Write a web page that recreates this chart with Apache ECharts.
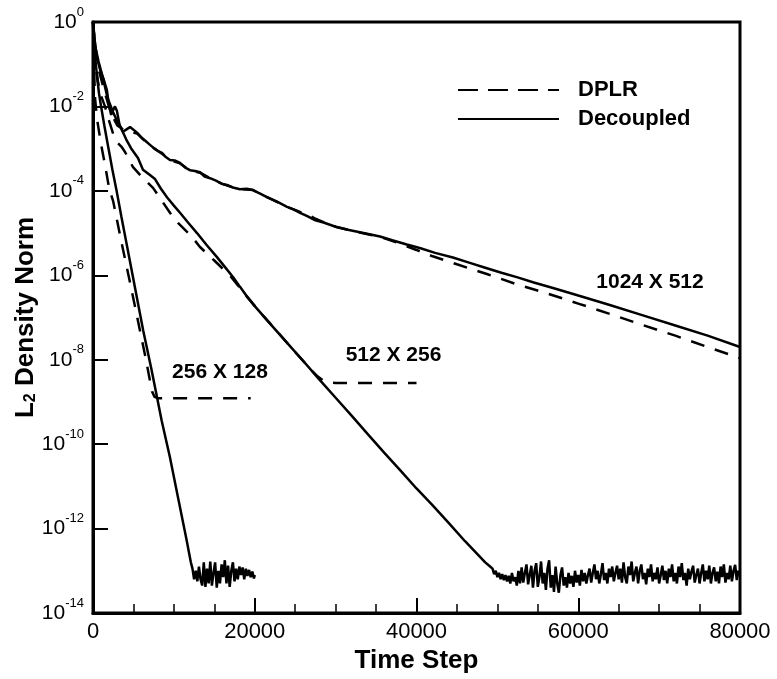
<!DOCTYPE html>
<html><head><meta charset="utf-8">
<script src="https://cdn.jsdelivr.net/npm/echarts@6/dist/echarts.min.js"></script>
<style>html,body{margin:0;padding:0;background:#fff}#c{width:777px;height:679px}</style>
</head><body><div id="c"></div>
<script>
// x: time step, y: log10(L2 density norm)
const xTickValues = [0, 20000, 40000, 60000, 80000];
const yTickExponents = [0, -2, -4, -6, -8, -10, -12, -14];

const dplr256 = [[0,0],[100,-0.9],[250,-1.8],[500,-2.3],[1000,-2.9],[1500,-3.4],[2000,-3.95],[2500,-4.25],[3500,-5.2],[4500,-6.1],[5800,-7.3],[6500,-7.95],[7000,-8.45],[7300,-8.75],[7600,-8.88],[8000,-8.91],[19500,-8.91]];

const decoupled256 = [[0,0],[150,-0.5],[300,-0.9],[500,-1.3],[750,-1.7],[1000,-2.0],[1400,-2.45],[1900,-2.98],[2400,-3.5],[2900,-3.98],[3500,-4.6],[4200,-5.3],[5000,-6.1],[6200,-7.3],[7200,-8.2],[8500,-9.45],[9500,-10.3],[10500,-11.25],[11500,-12.2],[12100,-12.8],
[12300,-12.95],[12500,-13.2],[12700,-13.0],[12900,-13.25],[13100,-12.9],[13300,-13.2],[13500,-13.35],[13700,-12.8],[13900,-13.38],[14100,-12.95],[14300,-13.3],[14500,-12.78],[14700,-13.35],[14900,-13.05],[15100,-12.8],[15300,-13.4],[15500,-13.0],[15700,-13.3],[15900,-12.85],[16100,-13.15],[16300,-12.75],[16500,-13.3],[16700,-12.88],[16900,-13.38],[17100,-13.0],[17300,-12.8],[17500,-13.25],[17700,-12.95],[17900,-13.2],[18100,-12.9],[18300,-13.1],[18500,-12.92],[18700,-13.2],[18900,-12.95],[19100,-13.12],[19300,-12.98],[19500,-13.15],[19700,-13.02],[19900,-13.18],[20000,-13.1]];

const dplr512 = [[0,0],[200,-0.8],[600,-1.4],[1000,-1.75],[1480,-2.0],[2000,-2.35],[2500,-2.65],[3090,-2.87],[3500,-2.95],[3960,-3.08],[4950,-3.44],[6060,-3.67],[7420,-3.93],[8280,-4.17],[9520,-4.52],[10510,-4.76],[12240,-5.09],[13230,-5.33],[15000,-5.65],[17000,-6.02],[19000,-6.5],[21000,-6.95],[23000,-7.38],[25000,-7.82],[27000,-8.25],[27800,-8.4],[28500,-8.5],[29200,-8.54],[30000,-8.55],[40000,-8.55]];

const decoupled512 = [[0,0],[300,-0.6],[700,-0.95],[1240,-1.33],[1800,-1.8],[2470,-2.13],[3000,-2.35],[3460,-2.51],[4100,-2.78],[4700,-2.99],[5560,-3.22],[6180,-3.5],[7000,-3.62],[7670,-3.72],[8400,-3.95],[9150,-4.15],[10000,-4.35],[10760,-4.52],[11800,-4.76],[12860,-5.0],[14000,-5.27],[15330,-5.57],[16300,-5.8],[17310,-6.04],[18200,-6.28],[19040,-6.5],[20000,-6.73],[22000,-7.17],[24000,-7.6],[26000,-8.03],[28000,-8.47],[30000,-8.9],[32000,-9.33],[34000,-9.77],[36000,-10.2],[38000,-10.62],[40000,-11.05],[42000,-11.45],[44000,-11.87],[46000,-12.3],[47500,-12.6],[48500,-12.8],[49100,-12.9],
[49400,-12.95],[49600,-13.08],[49800,-13.0],[50000,-13.15],[50200,-13.05],[50400,-13.2],[50600,-13.08],[50800,-13.22],[51000,-13.1],[51200,-13.25],[51400,-13.12],[51600,-13.3],[51800,-13.05],[52000,-13.25],[52200,-13.15],[52400,-13.35],[52600,-13.0],[52800,-13.3],[53000,-12.92],[53200,-13.28],[53400,-13.05],[53600,-12.85],[53800,-13.32],[54000,-13.1],[54200,-12.88],[54400,-13.4],[54600,-13.0],[54800,-12.82],[55000,-13.38],[55200,-13.15],[55400,-12.78],[55600,-13.3],[55800,-13.05],[56000,-13.45],[56200,-12.95],[56400,-12.75],[56600,-13.4],[56800,-13.1],[57000,-13.5],[57200,-12.9],[57400,-13.3],[57600,-13.52],[57800,-13.1],[58000,-12.92],[58200,-13.35],[58400,-13.15],[58600,-13.4],[58800,-13.05],[59000,-13.3],[59200,-13.12],[59400,-13.38],[59600,-13.0],[59800,-13.28],[60000,-13.1],[60200,-13.35],[60400,-12.98],[60600,-13.25],[60800,-13.05],[61000,-13.3],[61200,-13.1],[61400,-12.95],[61600,-13.28],[61800,-13.05],[62000,-12.85],[62200,-13.2],[62400,-13.0],[62600,-13.3],[62800,-13.08],[63000,-12.82],[63200,-13.22],[63400,-13.05],[63600,-13.3],[63800,-12.95],[64000,-13.15],[64200,-12.9],[64400,-13.25],[64600,-13.05],[64800,-12.88],[65000,-13.2],[65200,-12.95],[65400,-13.28],[65600,-12.8],[65800,-13.15],[66000,-13.3],[66200,-12.9],[66400,-13.1],[66600,-12.78],[66800,-13.25],[67000,-13.05],[67200,-12.9],[67400,-13.3],[67600,-13.0],[67800,-12.85],[68000,-13.2],[68200,-13.05],[68400,-13.32],[68600,-12.95],[68800,-13.15],[69000,-12.85],[69200,-13.25],[69400,-13.05],[69600,-13.2],[69800,-12.92],[70000,-13.3],[70200,-13.1],[70400,-12.88],[70600,-13.22],[70800,-13.0],[71000,-13.3],[71200,-12.95],[71400,-13.15],[71600,-12.85],[71800,-13.25],[72000,-13.05],[72200,-13.3],[72400,-12.9],[72600,-13.15],[72800,-12.82],[73000,-13.22],[73200,-13.05],[73400,-13.35],[73600,-12.95],[73800,-13.2],[74000,-13.02],[74200,-12.88],[74400,-13.28],[74600,-13.1],[74800,-12.95],[75000,-13.3],[75200,-13.05],[75400,-12.85],[75600,-13.25],[75800,-13.0],[76000,-13.2],[76200,-12.88],[76400,-13.3],[76600,-13.05],[76800,-12.92],[77000,-13.25],[77200,-13.02],[77400,-13.3],[77600,-12.9],[77800,-13.15],[78000,-12.85],[78200,-13.28],[78400,-13.05],[78600,-13.2],[78800,-12.88],[79000,-13.25],[79200,-13.0],[79400,-12.86],[79600,-13.22],[79800,-13.0],[80000,-13.1]];

const dplr1024 = [[0,0],[300,-0.7],[800,-1.2],[1500,-1.7],[2200,-2.15],[3000,-2.45],[4000,-2.58],[5440,-2.64],[6500,-2.83],[7600,-3.0],[8530,-3.12],[9520,-3.27],[10760,-3.35],[11990,-3.51],[13230,-3.57],[14470,-3.7],[15900,-3.83],[17300,-3.92],[18170,-3.96],[19780,-3.98],[21510,-4.15],[23990,-4.38],[25600,-4.5],[26500,-4.55],[27500,-4.66],[28500,-4.74],[30000,-4.85],[31500,-4.92],[33000,-4.99],[35490,-5.09],[37500,-5.22],[40000,-5.4],[42000,-5.55],[45000,-5.74],[48700,-5.97],[52180,-6.2],[56000,-6.42],[60000,-6.67],[64000,-6.92],[68000,-7.18],[72000,-7.43],[76000,-7.7],[80000,-7.96]];

const decoupled1024 = [[0,0],[200,-0.45],[500,-0.85],[900,-1.15],[1300,-1.35],[1700,-1.6],[2000,-2.0],[2250,-2.2],[2500,-2.08],[2720,-2.0],[2950,-2.1],[3300,-2.45],[3700,-2.6],[4100,-2.55],[4580,-2.49],[5000,-2.55],[5440,-2.62],[6000,-2.74],[6500,-2.82],[7050,-2.91],[7600,-3.0],[8000,-3.05],[8530,-3.1],[9000,-3.2],[9520,-3.27],[10100,-3.28],[10760,-3.34],[11400,-3.45],[11990,-3.51],[12600,-3.53],[13230,-3.56],[13800,-3.66],[14470,-3.7],[15200,-3.76],[15900,-3.83],[16570,-3.86],[17300,-3.92],[18170,-3.96],[19000,-3.95],[19780,-3.98],[20600,-4.06],[21510,-4.15],[22700,-4.25],[23990,-4.38],[24800,-4.44],[25600,-4.52],[26500,-4.6],[27500,-4.7],[28500,-4.75],[30000,-4.85],[31500,-4.92],[33000,-4.98],[35490,-5.08],[37000,-5.17],[38800,-5.27],[40500,-5.36],[42300,-5.47],[44500,-5.58],[46500,-5.7],[48500,-5.82],[50500,-5.94],[52500,-6.05],[54500,-6.17],[56880,-6.3],[60000,-6.48],[64000,-6.71],[68000,-6.95],[72000,-7.19],[76000,-7.43],[80000,-7.7]];

const annotations = [
  ['256 X 128', 15700, -8.30],
  ['512 X 256', 37160, -7.90],
  ['1024 X 512', 68870, -6.16]
];

const FONT = 'Liberation Sans, Arial, Helvetica, sans-serif';
function mk(name, pts, dashed) {
  return {
    type: 'line', name: name,
    data: pts.map(p => [p[0], Math.pow(10, p[1])]),
    showSymbol: false, symbol: 'none', animation: false,
    lineStyle: { color: '#000', width: 2.5, type: dashed ? [14, 11] : 'solid' },
    itemStyle: { color: '#000' },
    z: dashed ? 3 : 2
  };
}

const chart = echarts.init(document.getElementById('c'), null, { renderer: 'canvas' });
chart.setOption({
  animation: false,
  backgroundColor: '#fff',
  grid: { left: 93, right: 37, top: 22, bottom: 66, show: true, borderColor: '#000', borderWidth: 3, containLabel: false, outerBoundsMode: 'none' },
  legend: {
    left: 457, top: 79, padding: 0, orient: 'vertical', itemWidth: 101, itemHeight: 14, itemGap: 7,
    data: [
      { name: 'DPLR', lineStyle: { type: [20, 10] } },
      { name: 'Decoupled' }
    ],
    itemStyle: { opacity: 0 },
    textStyle: { fontFamily: FONT, fontWeight: 'bold', fontSize: 22, color: '#000', padding: [0, 0, 0, 14] },
    selectedMode: false
  },
  xAxis: {
    type: 'value', min: 0, max: 80000, interval: 20000,
    name: 'Time Step', nameLocation: 'middle', nameGap: 31,
    nameTextStyle: { fontFamily: FONT, fontWeight: 'bold', fontSize: 26, color: '#000' },
    axisLine: { show: true, lineStyle: { color: '#000', width: 3 } },
    axisTick: { show: true, inside: true, length: 15, lineStyle: { color: '#000', width: 2 } },
    minorTick: { show: true, splitNumber: 4, length: 9, lineStyle: { color: '#000', width: 1.5 } },
    splitLine: { show: false },
    axisLabel: { fontFamily: FONT, fontSize: 22, color: '#000', margin: 8, formatter: v => String(v) }
  },
  yAxis: {
    type: 'log', logBase: 10, min: 1e-14, max: 1, interval: 2,
    name: '{n|L}{sub|2}{n| Density Norm}', nameLocation: 'middle', nameGap: 54, nameRotate: 90,
    nameMoveOverlap: false,
    nameTextStyle: {
      fontFamily: FONT, fontWeight: 'bold', fontSize: 26, color: '#000',
      rich: {
        n: { fontFamily: FONT, fontWeight: 'bold', fontSize: 26, color: '#000', lineHeight: 32, verticalAlign: 'bottom' },
        sub: { fontFamily: FONT, fontWeight: 'bold', fontSize: 16, color: '#000', lineHeight: 16, verticalAlign: 'bottom' }
      }
    },
    axisLine: { show: true, lineStyle: { color: '#000', width: 3 } },
    axisTick: { show: true, inside: true, length: 15, lineStyle: { color: '#000', width: 2 } },
    minorTick: { show: false },
    splitLine: { show: false },
    axisLabel: {
      margin: 9,
      formatter: v => '{b|10}{s|' + Math.round(Math.log10(v)) + '}',
      rich: {
        b: { fontFamily: FONT, fontSize: 21, color: '#000', lineHeight: 21, verticalAlign: 'bottom' },
        s: { fontFamily: FONT, fontSize: 13, color: '#000', lineHeight: 13, verticalAlign: 'bottom', padding: [0, 0, 14, 0] }
      }
    }
  },
  series: [
    mk('DPLR', dplr256, true),
    mk('DPLR', dplr512, true),
    mk('DPLR', dplr1024, true),
    mk('Decoupled', decoupled256, false),
    mk('Decoupled', decoupled512, false),
    mk('Decoupled', decoupled1024, false)
  ]
});

chart.setOption({
  graphic: annotations.map(a => {
    const p = chart.convertToPixel({ gridIndex: 0 }, [a[1], Math.pow(10, a[2])]);
    return {
      type: 'text', x: p[0], y: p[1], z: 10,
      style: { text: a[0], font: 'bold 21px ' + FONT, fill: '#000', align: 'center', verticalAlign: 'middle' }
    };
  })
});
</script></body></html>
